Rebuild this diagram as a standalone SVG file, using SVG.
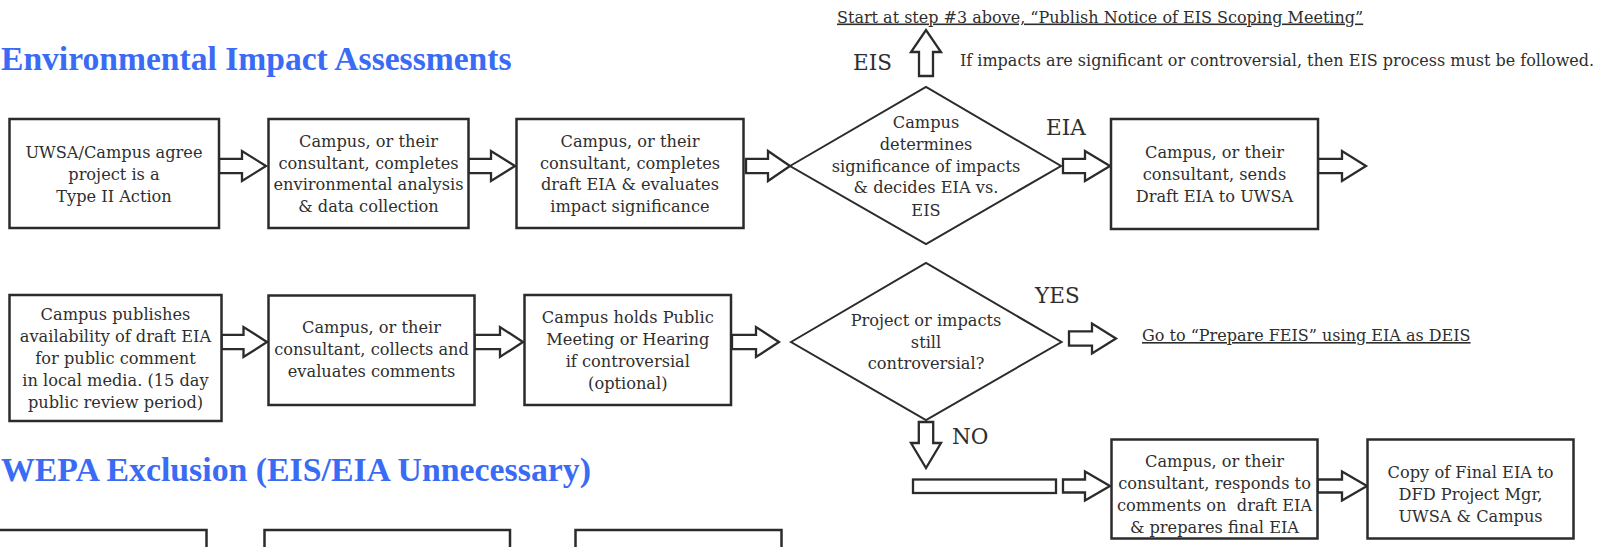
<svg xmlns="http://www.w3.org/2000/svg" width="1612" height="547" viewBox="0 0 1612 547">
<style>
.bx{fill:#fff;stroke:#2b2b2b;stroke-width:2.5}
.dm{fill:#fff;stroke:#2b2b2b;stroke-width:2}
.ar{fill:#fff;stroke:#2b2b2b;stroke-width:2.3;stroke-linejoin:miter}
.t{font-family:"DejaVu Serif","Liberation Serif",serif;font-size:16.2px;fill:#2e2e2e;text-anchor:middle}
.n{font-family:"DejaVu Serif","Liberation Serif",serif;font-size:16px;fill:#2e2e2e}
.u{text-decoration:underline}
.lb{font-family:"DejaVu Serif","Liberation Serif",serif;font-size:21.5px;fill:#2e2e2e}
.h{font-family:"Liberation Serif",serif;font-weight:bold;fill:#3a6bf5}
</style>
<rect width="1612" height="547" fill="#fff"/>

<text class="h" x="1" y="69.5" font-size="33.6">Environmental Impact Assessments</text>
<text class="h" x="1" y="481" font-size="33.8">WEPA Exclusion (EIS/EIA Unnecessary)</text>

<g id="connectors">
<polygon class="ar" points="219,158.8 242,158.8 242,151 266,166 242,181 242,173.2 219,173.2"/>
<polygon class="ar" points="468.5,158.8 491,158.8 491,151 515,166 491,181 491,173.2 468.5,173.2"/>
<polygon class="ar" points="746,158.8 768,158.8 768,151 790,166 768,181 768,173.2 746,173.2"/>
<polygon class="ar" points="1063,158.8 1085,158.8 1085,151 1110,166 1085,181 1085,173.2 1063,173.2"/>
<polygon class="ar" points="1318,158.8 1342,158.8 1342,151 1366,166 1342,181 1342,173.2 1318,173.2"/>
<polygon class="ar" points="919,76 919,52 911,52 926,30 941,52 933,52 933,76"/>
<polygon class="ar" points="221.5,334.8 243.5,334.8 243.5,327 267,342 243.5,357 243.5,349.2 221.5,349.2"/>
<polygon class="ar" points="474.5,334.8 500,334.8 500,327 523,342 500,357 500,349.2 474.5,349.2"/>
<polygon class="ar" points="732,334.8 756,334.8 756,327 779,342 756,357 756,349.2 732,349.2"/>
<polygon class="ar" points="1069,331.3 1092,331.3 1092,323.5 1116,338.5 1092,353.5 1092,345.7 1069,345.7"/>
<polygon class="ar" points="918.8,422 918.8,443 911,443 926,468 941,443 933.2,443 933.2,422"/>
<rect class="ar" x="913" y="479.5" width="143" height="13.5"/>
<polygon class="ar" points="1063,479.5 1085,479.5 1085,471.5 1110,486 1085,500.5 1085,492.5 1063,492.5"/>
<polygon class="ar" points="1317.5,479.5 1342,479.5 1342,471.5 1367,486 1342,500.5 1342,492.5 1317.5,492.5"/>
</g>

<g id="lbl-eis"><text class="lb" x="853" y="69.5">EIS</text></g>
<g id="note-eis"><text class="n" x="960" y="66">If impacts are significant or controversial, then EIS process must be followed.</text></g>
<g id="note-start"><text class="n u" x="837" y="22.5">Start at step #3 above, “Publish Notice of EIS Scoping Meeting”</text></g>
<g id="lbl-eia"><text class="lb" x="1046" y="135">EIA</text></g>
<g id="lbl-yes"><text class="lb" x="1035" y="302.5">YES</text></g>
<g id="lbl-no"><text class="lb" x="952" y="443.5">NO</text></g>
<g id="note-feis"><text class="n u" x="1142" y="341" font-size="16.4">Go to “Prepare FEIS” using EIA as DEIS</text></g>

<g id="n1">
<rect class="bx" x="9.5" y="119" width="209.5" height="109"/>
<text class="t" x="114" y="158.3">UWSA/Campus agree</text>
<text class="t" x="114" y="180">project is a</text>
<text class="t" x="114" y="201.7">Type II Action</text>
</g>
<g id="n2">
<rect class="bx" x="268.5" y="119" width="200" height="109"/>
<text class="t" x="368.5" y="146.7">Campus, or their</text>
<text class="t" x="368.5" y="168.5">consultant, completes</text>
<text class="t" x="368.5" y="190.3">environmental analysis</text>
<text class="t" x="368.5" y="212.2">&amp; data collection</text>
</g>
<g id="n3">
<rect class="bx" x="516.5" y="119" width="227" height="109"/>
<text class="t" x="630" y="146.7">Campus, or their</text>
<text class="t" x="630" y="168.5">consultant, completes</text>
<text class="t" x="630" y="190.3">draft EIA &amp; evaluates</text>
<text class="t" x="630" y="212.2">impact significance</text>
</g>
<g id="d1">
<polygon class="dm" points="790,166 926,87 1061,166 926,244"/>
<text class="t" x="926" y="128.3">Campus</text>
<text class="t" x="926" y="150">determines</text>
<text class="t" x="926" y="171.7">significance of impacts</text>
<text class="t" x="926" y="193.4">&amp; decides EIA vs.</text>
<text class="t" x="926" y="215.5">EIS</text>
</g>
<g id="n4">
<rect class="bx" x="1111" y="119" width="207" height="110"/>
<text class="t" x="1214.5" y="158.3">Campus, or their</text>
<text class="t" x="1214.5" y="180">consultant, sends</text>
<text class="t" x="1214.5" y="201.7">Draft EIA to UWSA</text>
</g>

<g id="n5">
<rect class="bx" x="9.5" y="295" width="212" height="126"/>
<text class="t" x="115.5" y="320">Campus publishes</text>
<text class="t" x="115.5" y="341.8">availability of draft EIA</text>
<text class="t" x="115.5" y="363.7">for public comment</text>
<text class="t" x="115.5" y="385.7">in local media. (15 day</text>
<text class="t" x="115.5" y="407.6">public review period)</text>
</g>
<g id="n6">
<rect class="bx" x="268.5" y="295.5" width="206" height="109.5"/>
<text class="t" x="371.5" y="333.3">Campus, or their</text>
<text class="t" x="371.5" y="355.3">consultant, collects and</text>
<text class="t" x="371.5" y="377.3">evaluates comments</text>
</g>
<g id="n7">
<rect class="bx" x="524.5" y="295" width="206.5" height="110"/>
<text class="t" x="627.8" y="322.7">Campus holds Public</text>
<text class="t" x="627.8" y="344.8">Meeting or Hearing</text>
<text class="t" x="627.8" y="366.8">if controversial</text>
<text class="t" x="627.8" y="389">(optional)</text>
</g>
<g id="d2">
<polygon class="dm" points="791,342 926,263 1061.5,342 926,420"/>
<text class="t" x="926" y="325.7">Project or impacts</text>
<text class="t" x="926" y="347.6">still</text>
<text class="t" x="926" y="369.4">controversial?</text>
</g>
<g id="n8">
<rect class="bx" x="1111.5" y="439.5" width="206" height="99"/>
<text class="t" x="1214.5" y="466.7">Campus, or their</text>
<text class="t" x="1214.5" y="489">consultant, responds to</text>
<text class="t" x="1214.5" y="511" style="white-space:pre">comments on  draft EIA</text>
<text class="t" x="1214.5" y="533">&amp; prepares final EIA</text>
</g>
<g id="n9">
<rect class="bx" x="1367.5" y="439.5" width="206" height="99"/>
<text class="t" x="1470.5" y="477.7">Copy of Final EIA to</text>
<text class="t" x="1470.5" y="499.8">DFD Project Mgr,</text>
<text class="t" x="1470.5" y="521.7">UWSA &amp; Campus</text>
</g>

<g id="n10"><rect class="bx" x="-5" y="530" width="211.5" height="70"/></g>
<g id="n11"><rect class="bx" x="264.5" y="530" width="245.5" height="70"/></g>
<g id="n12"><rect class="bx" x="575.5" y="530" width="206" height="70"/></g>
</svg>
